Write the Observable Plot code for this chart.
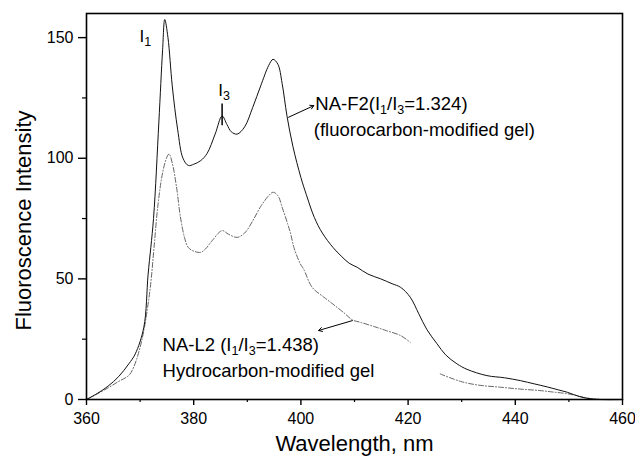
<!DOCTYPE html>
<html>
<head>
<meta charset="utf-8">
<script src="https://cdn.jsdelivr.net/npm/d3@7"></script>
<script src="https://cdn.jsdelivr.net/npm/@observablehq/plot@0.6"></script>
<style>
  html, body { margin: 0; padding: 0; background: #fff; }
  #chart svg { display: block; }
</style>
</head>
<body>
<div id="chart"></div>
<script>
// Wavelength (nm) and intensity values
const f2Wavelength = [360, 362, 364, 366, 367.9, 369.1, 370.7, 371.5, 372.5, 373.5, 374.2, 374.6, 375.2, 376, 377, 378, 379, 380, 381.3, 382.5, 384, 385.3, 386.2, 387, 388.1, 389.5, 391, 392.5, 394, 394.8, 395.7, 396.5, 397.4, 398.5, 400, 401, 402.5, 404, 406, 407.5, 409, 410.5, 412.5, 414.9, 417, 418.6, 420.4, 422, 423.5, 425.4, 427, 429.1, 431, 434.7, 438, 441, 443.5, 446, 448, 449.7, 452, 454, 456, 460];
const f2Intensity  = [0, 2.5, 5.5, 9.5, 14.8, 18.9, 30, 52, 75, 115, 145, 157.5, 150, 130, 112, 100, 97, 97.5, 99, 102, 110, 117.5, 114, 111, 110, 113, 121, 130, 138.5, 141, 139, 131, 117.6, 105, 92, 85, 75.5, 69, 63, 59.5, 56.5, 54.8, 52, 50, 48, 46.5, 42.4, 35.5, 29, 23.1, 18.5, 14.8, 12.5, 9.9, 9, 7.8, 6.5, 5.2, 4, 3, 1.2, 0.3, 0, 0];

const l2Wavelength = [360, 362, 364, 366, 367.9, 368.8, 369.8, 370.7, 371.9, 372.6, 373.3, 374.2, 375, 375.4, 376, 376.8, 377.5, 378.3, 379, 380, 381.3, 382.2, 383.5, 385.3, 386.5, 388.1, 389.5, 391, 392.5, 394, 394.8, 395.7, 396.6, 397.5, 398.1, 398.7, 399.9, 400.5, 402.1, 404.3, 406, 408, 409.6, 411.1, 414, 416, 418.6, 420.4, 423, 426, 429.8, 433, 437.2, 441, 444.6, 447, 449.7, 452, 454, 456, 460];
const l2Intensity  = [0, 2.3, 4.8, 7.5, 10, 13.4, 20, 28.6, 46.5, 63, 80, 94, 100.5, 101.8, 98, 88, 76, 67, 63, 61.5, 61, 62.4, 66, 70, 68.5, 67.2, 69, 74, 80, 84.5, 85.9, 84.5, 79, 73, 68.6, 63, 56.2, 54.1, 46.5, 42.4, 39.5, 36, 33, 32, 30, 28.5, 26.5, 23.7, NaN, 10.6, 7.5, 6, 5.1, 4.3, 3.7, 3.1, 2.4, 1.3, 0.4, 0, 0];

const xMajorTicks = [360, 380, 400, 420, 440, 460];
const xMinorTicks = [370, 390, 410, 430, 450];
const yMajorTicks = [0, 50, 100, 150];
const yMinorTicks = [25, 75, 125];

const xTitle = "Wavelength, nm";
const yTitle = "Fluoroscence Intensity";

// Annotation texts ("_n" marks a subscript digit)
const annotTexts = ["I_1", "I_3", "NA-F2(I_1/I_3=1.324)", "(fluorocarbon-modified gel)", "NA-L2 (I_1/I_3=1.438)", "Hydrocarbon-modified gel"];
const annotX = [369.9, 384.6, 402.7, 402.4, 374.2, 374.2];
const annotY = [150.5, 128, 122.4, 111.6, 22.6, 11.8];
const annotSize = [17, 17, 18.5, 18.5, 18.5, 18.5];

const arrowFrom = [[397.7, 117], [409.6, 32.7]];
const arrowTo   = [[402.4, 121.8], [403.3, 28.6]];
const i3Marker = {x: 385.3, y1: 113.5, y2: 122.5};

const f2 = f2Wavelength.map((x, i) => ({x, y: f2Intensity[i]}));
const l2 = l2Wavelength.map((x, i) => ({x, y: l2Intensity[i]}));
const annots = annotTexts.map((t, i) => ({t, x: annotX[i], y: annotY[i], s: annotSize[i]}));
const arrows = arrowFrom.map((a, i) => ({x1: a[0], y1: a[1], x2: arrowTo[i][0], y2: arrowTo[i][1]}));

const FONT = "'Liberation Sans', Arial, Helvetica, sans-serif";

const chart = Plot.plot({
  width: 635,
  height: 462,
  marginLeft: 86,
  marginRight: 13,
  marginTop: 13,
  marginBottom: 63,
  style: {fontFamily: FONT, color: "#000", background: "#fff"},
  x: {domain: [360, 460]},
  y: {domain: [0, 160]},
  marks: [
    Plot.line(l2, {x: "x", y: "y", curve: "catmull-rom", stroke: "#666", strokeWidth: 1, strokeDasharray: "5,2,1,2"}),
    Plot.line(f2, {x: "x", y: "y", curve: "catmull-rom", stroke: "#111", strokeWidth: 1}),
    Plot.frame({stroke: "#000", strokeWidth: 1.6}),
    Plot.axisX({ticks: xMajorTicks, tickSize: 6, tickPadding: 7, fontSize: 16, label: null, tickFormat: d => String(d), strokeWidth: 1.4}),
    Plot.axisX({ticks: xMinorTicks, tickSize: 3, text: null, label: null, strokeWidth: 1.2}),
    Plot.axisY({ticks: yMajorTicks, tickSize: 8, tickPadding: 5, fontSize: 16, label: null, tickFormat: d => String(d), strokeWidth: 1.4}),
    Plot.axisY({ticks: yMinorTicks, tickSize: 4, text: null, label: null, strokeWidth: 1.2}),
    Plot.text([xTitle], {frameAnchor: "bottom", dy: 51, fontSize: 22, fill: "#000"}),
    Plot.text([yTitle], {frameAnchor: "left", textAnchor: "middle", dx: -63, dy: 14, rotate: -90, fontSize: 22, fill: "#000"}),
    Plot.text(annots, {x: "x", y: "y", text: "t", textAnchor: "start", fontSize: "s", fill: "#000"}),
    Plot.arrow(arrows, {x1: "x1", y1: "y1", x2: "x2", y2: "y2", stroke: "#000", strokeWidth: 1, headLength: 6}),
    Plot.ruleX([i3Marker], {x: "x", y1: "y1", y2: "y2", stroke: "#000", strokeWidth: 1.5})
  ]
});

// Turn "_n" markers into real subscript tspans
d3.select(chart).selectAll("text").each(function() {
  const el = this;
  const s = el.textContent;
  if (!s.includes("_")) return;
  const parts = s.split(/(_\d)/);
  while (el.firstChild) el.removeChild(el.firstChild);
  let shifted = false;
  for (const p of parts) {
    if (!p) continue;
    const ts = document.createElementNS("http://www.w3.org/2000/svg", "tspan");
    if (p.startsWith("_")) {
      ts.textContent = p.slice(1);
      ts.setAttribute("font-size", "12.5");
      ts.setAttribute("dy", shifted ? "0" : "4");
      shifted = true;
    } else {
      ts.textContent = p;
      if (shifted) { ts.setAttribute("dy", "-4"); shifted = false; }
    }
    el.appendChild(ts);
  }
});

document.getElementById("chart").appendChild(chart);
</script>
</body>
</html>
